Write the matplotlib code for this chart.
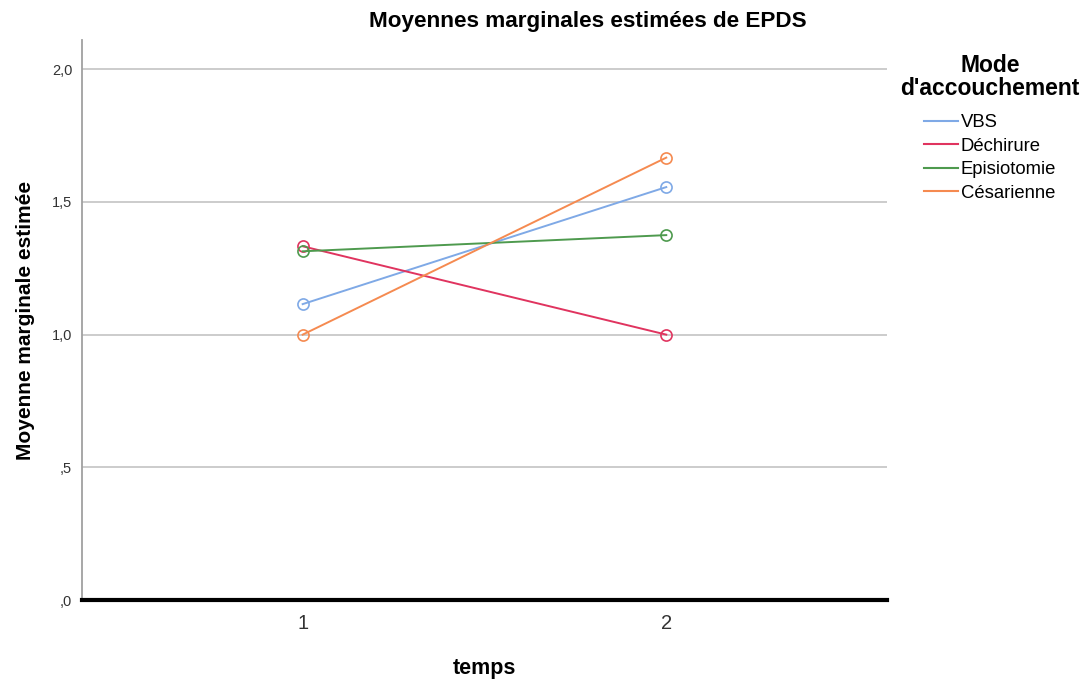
import matplotlib
matplotlib.use("Agg")
import matplotlib.pyplot as plt
from matplotlib.lines import Line2D
from matplotlib.ticker import FixedLocator

plt.rcParams['font.family'] = ['Liberation Sans', 'DejaVu Sans']

# data
temps = [1, 2]
groups = ['VBS', 'Déchirure', 'Episiotomie', 'Césarienne']
vbs = [1.115, 1.556]
dechirure = [1.333, 1.0]
episiotomie = [1.314, 1.375]
cesarienne = [1.0, 1.667]
yticks = [0.0, 0.5, 1.0, 1.5, 2.0]
ytick_labels = [',0', ',5', '1,0', '1,5', '2,0']

series = [vbs, dechirure, episiotomie, cesarienne]
colors = ['#7fa9e6', '#e0345f', '#4e9a4e', '#f58a50']

fig = plt.figure(figsize=(10.87, 6.8), dpi=100)
ax = fig.add_axes([0.0754, 0.1176, 0.7406, 0.8235])

for y in yticks[1:]:
    ax.axhline(y, color='#c8c8c8', linewidth=1.3, zorder=0)

for vals, col in zip(series, colors):
    ax.plot(temps, vals, color=col, linewidth=1.4, marker='o', markersize=8,
            markerfacecolor='none', markeredgecolor=col, markeredgewidth=1.2,
            zorder=3)

ax.set_xlim(0.393, 2.607)
ax.set_ylim(0, 2.11)
ax.xaxis.set_major_locator(FixedLocator(temps))
ax.set_xticklabels([str(t) for t in temps], fontsize=14.5, color='#333333')
ax.yaxis.set_major_locator(FixedLocator(yticks))
ax.set_yticklabels(ytick_labels, fontsize=10.5, color='#333333')
ax.tick_params(axis='x', length=0, pad=10)
ax.tick_params(axis='y', length=0, pad=7)

for side in ['top', 'right']:
    ax.spines[side].set_visible(False)
ax.spines['left'].set_color('#a0a0a0')
ax.spines['left'].set_linewidth(1.3)
ax.spines['bottom'].set_color('black')
ax.spines['bottom'].set_linewidth(3)

ax.set_xlabel('temps', fontsize=15.5, fontweight='bold', labelpad=18)
ax.set_ylabel('Moyenne marginale estimée', fontsize=15, fontweight='bold', labelpad=12)

fig.text(588 / 1087, 1 - 22 / 680, 'Moyennes marginales estimées de EPDS',
         ha='center', va='center', fontsize=16.2, fontweight='bold')

handles = [Line2D([0], [0], color=c, linewidth=1.5) for c in colors]
leg = fig.legend(handles, groups, loc='upper center', bbox_to_anchor=(990 / 1087, 0.94),
                 frameon=False, fontsize=13.3, title="Mode\nd'accouchement",
                 title_fontproperties={'size': 16.5, 'weight': 'bold'},
                 handlelength=1.85, handletextpad=0.15, labelspacing=0.35,
                 borderpad=0.2)
leg.get_title().set_multialignment('center')
leg.get_title().set_linespacing(1.0)
# a little more room between the legend title and its entries
leg._legend_box.sep = 10.5

fig.savefig('out.png', dpi=100)
